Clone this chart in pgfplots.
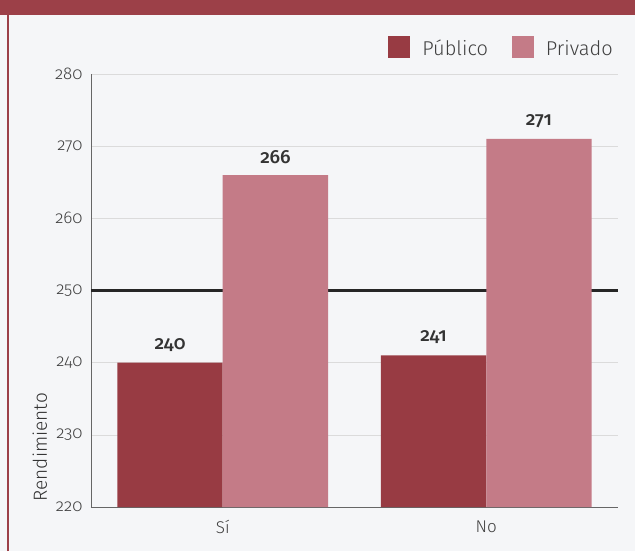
\documentclass[border=0pt]{standalone}
\usepackage{fontspec}
\setmainfont{Fira Sans}[Numbers=OldStyle, UprightFont={* Light}, BoldFont={* Medium}]
\usepackage{pgfplots}
\pgfplotsset{compat=1.18}
\usetikzlibrary{backgrounds,calc}
\definecolor{publico}{HTML}{983B43}
\definecolor{privado}{HTML}{C47B87}
\definecolor{titlebar}{HTML}{9C4048}
\definecolor{bg}{HTML}{F5F6F8}
\begin{document}
\begin{tikzpicture}
\begin{axis}[
  name=ax,
  scale only axis, width=527pt, height=433pt,
  xmin=-0.5, xmax=1.5, ymin=220, ymax=280,
  ytick={220,230,...,280},
  xtick={0,1}, xticklabels={Sí,No},
  axis x line=bottom, axis y line=left,
  axis line style={-, color=black!60, line width=0.8pt},
  major tick length=0pt,
  ymajorgrids, grid style={color=black!14, line width=0.6pt},
  ybar=0pt, bar width=0.4,
  nodes near coords,
  nodes near coords style={font=\bfseries\fontsize{19}{19}\selectfont, color=black!80, anchor=south, yshift=8pt},
  yticklabel style={font=\fontsize{17}{17}\selectfont, color=black!75, xshift=-5pt},
  xticklabel style={font=\fontsize{17}{17}\selectfont, color=black!75, yshift=-10pt},
  /pgf/number format/assume math mode=true,
  ylabel={Rendimiento},
  ylabel style={font=\fontsize{19}{19}\selectfont, color=black!80, at={(axis description cs:-0.097,0.005)}, anchor=west},
  legend style={at={(rel axis cs:1,1.03)}, anchor=south east, draw=none, fill=none,
    legend columns=2, font=\fontsize{20}{20}\selectfont, text=black!75,
    /tikz/every odd column/.append style={column sep=10pt},
    /tikz/every even column/.append style={column sep=22pt}},
  legend image code/.code={\fill[#1] (0pt,-10pt) rectangle (22pt,12pt);},
  clip=false,
]
\draw[line width=2.6pt, color=black!85] (axis cs:-0.5,250) -- (axis cs:1.5,250);
\addplot[fill=publico, draw=none] coordinates {(0,240) (1,241)};
\addplot[fill=privado, draw=none] coordinates {(0,266) (1,271)};
\legend{Público, Privado}
\end{axis}
\begin{scope}[on background layer]
\fill[bg] ($(ax.south west)+(-91pt,-44pt)$) rectangle ($(ax.north east)+(17pt,74pt)$);
\fill[titlebar] ($(ax.north west)+(-91pt,59pt)$) rectangle ($(ax.north east)+(17pt,74pt)$);
\draw[titlebar, line width=2pt] ($(ax.south west)+(-83pt,-44pt)$) -- ($(ax.north west)+(-83pt,59pt)$);
\end{scope}
\end{tikzpicture}
\end{document}
